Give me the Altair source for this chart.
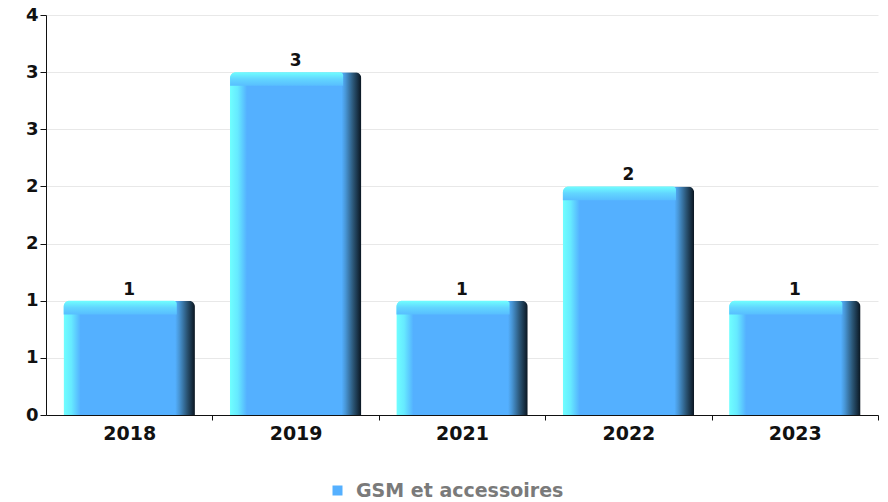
import altair as alt
import pandas as pd

years = ["2018", "2019", "2021", "2022", "2023"]
values = [1, 3, 1, 2, 1]
series_name = "GSM et accessoires"
y_ticks = [0, 0.5, 1, 1.5, 2, 2.5, 3, 3.5]

df = pd.DataFrame({"year": years, "value": values, "series": [series_name] * len(years)})

FONT = "DejaVu Sans"

x_enc = alt.X(
    "year:N",
    title=None,
    sort=years,
    scale=alt.Scale(paddingInner=0.21, paddingOuter=0.105),
    axis=alt.Axis(
        labelAngle=0, labelFont=FONT, labelFontWeight="bold", labelFontSize=19,
        labelColor="#111111", tickOffset=83.2, labelOffset=-83.2, tickSize=5,
        tickColor="#111111", domainColor="#111111", labelPadding=4, grid=False,
    ),
)
y_enc = alt.Y(
    "value:Q",
    title=None,
    scale=alt.Scale(domain=[0, 3.5], nice=False),
    axis=alt.Axis(
        values=y_ticks, labelExpr="round(datum.value)", labelFont=FONT,
        labelFontWeight="bold", labelFontSize=18, labelColor="#111111",
        tickSize=6, tickColor="#111111", domainColor="#111111",
        gridColor="#e8e8e8", labelPadding=2,
    ),
)

main_grad = alt.LinearGradient(
    gradient="linear", x1=0, x2=1, y1=0, y2=0,
    stops=[
        alt.GradientStop(color="#70ffff", offset=0),
        alt.GradientStop(color="#66eaff", offset=0.06),
        alt.GradientStop(color="#54b0ff", offset=0.13),
        alt.GradientStop(color="#54b0ff", offset=0.85),
        alt.GradientStop(color="#4896d6", offset=0.88),
        alt.GradientStop(color="#2a5474", offset=0.94),
        alt.GradientStop(color="#0a1520", offset=1),
    ],
)
top_grad = alt.LinearGradient(
    gradient="linear", x1=0, x2=0, y1=0, y2=1,
    stops=[
        alt.GradientStop(color="#70ffff", offset=0),
        alt.GradientStop(color="#62d6ff", offset=0.5),
        alt.GradientStop(color="#58beff", offset=1),
    ],
)

base = alt.Chart(df)

bars = base.mark_bar(
    color=main_grad, cornerRadiusTopLeft=6, cornerRadiusTopRight=6
).encode(x=x_enc, y=y_enc)

top = base.transform_calculate(low="datum.value - 0.12").mark_bar(
    color=top_grad, cornerRadiusTopLeft=6, cornerRadiusTopRight=3,
    width=alt.RelativeBandSize(0.86), xOffset=-9,
).encode(x=x_enc, y=y_enc, y2="low:Q")

labels = base.mark_text(
    dy=-11, font=FONT, fontWeight="bold", fontSize=17, color="#111111"
).encode(x=x_enc, y=y_enc, text="value:Q")

legend_layer = base.mark_square(opacity=0).encode(
    x=x_enc, y=y_enc,
    color=alt.Color(
        "series:N", title=None,
        scale=alt.Scale(range=["#55b0ff"]),
        legend=alt.Legend(
            orient="none", legendX=282, legendY=466, padding=0,
            direction="horizontal", symbolType="square",
            symbolOpacity=1, symbolSize=100, symbolStrokeWidth=0,
            labelFont=FONT, labelFontWeight="bold", labelLimit=0,
            labelFontSize=19, labelColor="#7a7a7a", labelOffset=9,
        ),
    ),
)

chart = alt.layer(bars, top, labels, legend_layer).properties(
    width=832, height=400,
    autosize=alt.AutoSizeParams(type="none"),
    padding={"left": 38, "top": 7, "right": 2, "bottom": 87},
).configure_view(stroke=None).configure_axis(gridWidth=1)

chart.save("out.html", embed_options={"renderer": "svg", "actions": False})
